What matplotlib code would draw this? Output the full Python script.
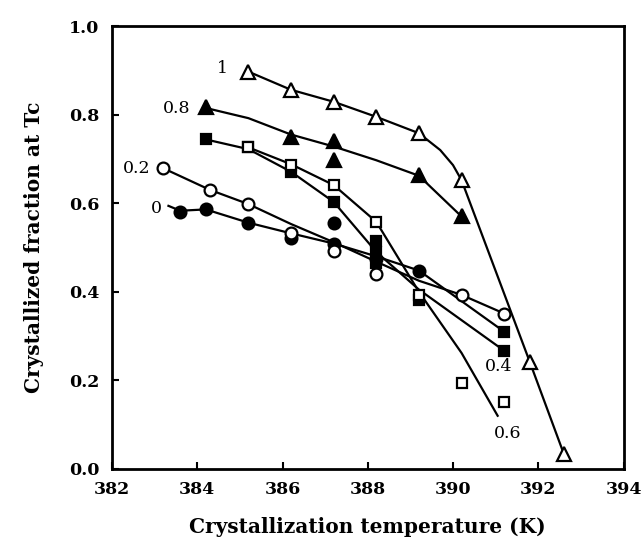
import matplotlib
matplotlib.use("Agg")
import matplotlib.pyplot as plt

# ---- data ----
# markers
open_tri_x = [385.2, 386.2, 387.2, 388.2, 389.2, 390.2, 391.8, 392.6]
open_tri_y = [0.897, 0.856, 0.829, 0.795, 0.758, 0.652, 0.242, 0.034]
filled_tri_x = [384.2, 386.2, 387.2, 387.2, 389.2, 390.2]
filled_tri_y = [0.818, 0.749, 0.741, 0.698, 0.664, 0.570]
filled_sq_x = [384.2, 385.2, 386.2, 387.2, 388.2, 388.2, 388.2, 389.2, 391.2, 391.2]
filled_sq_y = [0.744, 0.726, 0.671, 0.603, 0.515, 0.490, 0.465, 0.381, 0.310, 0.267]
open_sq_x = [385.2, 386.2, 387.2, 388.2, 389.2, 390.2, 391.2]
open_sq_y = [0.726, 0.686, 0.641, 0.558, 0.393, 0.195, 0.152]
filled_circ_x = [383.6, 384.2, 385.2, 386.2, 387.2, 387.2, 388.2, 389.2]
filled_circ_y = [0.581, 0.586, 0.556, 0.522, 0.555, 0.509, 0.475, 0.448]
open_circ_x = [383.2, 384.3, 385.2, 386.2, 387.2, 388.2, 390.2, 391.2]
open_circ_y = [0.679, 0.630, 0.598, 0.532, 0.491, 0.440, 0.393, 0.351]

# fitted curves
c1_x = [385.2, 386.2, 387.2, 388.2, 389.2, 389.7, 390.0, 390.2, 391.8, 392.6]
c1_y = [0.897, 0.856, 0.829, 0.795, 0.758, 0.720, 0.686, 0.652, 0.242, 0.034]
c08_x = [384.2, 385.2, 386.2, 387.2, 388.2, 389.2, 390.2]
c08_y = [0.815, 0.792, 0.755, 0.728, 0.697, 0.662, 0.570]
c06_x = [385.2, 386.2, 387.2, 388.2, 389.2, 390.2, 391.06]
c06_y = [0.726, 0.688, 0.641, 0.558, 0.400, 0.262, 0.118]
c04_x = [384.2, 385.2, 386.2, 387.2, 388.2, 389.2, 391.2]
c04_y = [0.744, 0.722, 0.671, 0.603, 0.490, 0.405, 0.267]
c02_x = [383.2, 384.3, 385.2, 386.2, 387.2, 388.2, 389.2, 390.2, 391.2]
c02_y = [0.679, 0.630, 0.598, 0.553, 0.512, 0.468, 0.425, 0.393, 0.351]
c0_x = [383.3, 383.6, 384.2, 385.2, 386.2, 387.2, 388.2, 389.2, 391.2]
c0_y = [0.595, 0.583, 0.586, 0.556, 0.532, 0.509, 0.480, 0.448, 0.310]

curve_labels = ["1", "0.8", "0.2", "0", "0.4", "0.6"]
label_x = [384.6, 383.52, 382.57, 383.05, 391.06, 391.28]
label_y = [0.904, 0.814, 0.679, 0.588, 0.231, 0.081]

x_ticks = [382, 384, 386, 388, 390, 392, 394]
y_ticks = [0.0, 0.2, 0.4, 0.6, 0.8, 1.0]

# ---- figure ----
fig = plt.figure(figsize=(6.43, 5.41), dpi=100)
ax = fig.add_axes([0.1742, 0.1331, 0.7955, 0.8188])

lw = 1.6
for cx, cy in [(c1_x, c1_y), (c08_x, c08_y), (c06_x, c06_y),
               (c04_x, c04_y), (c02_x, c02_y), (c0_x, c0_y)]:
    ax.plot(cx, cy, color="black", lw=lw, zorder=2, solid_capstyle="butt")

mew = 1.6
ax.plot(filled_circ_x, filled_circ_y, "o", ms=8.5, mfc="black", mec="black", mew=mew, zorder=3)
ax.plot(open_circ_x, open_circ_y, "o", ms=8.5, mfc="white", mec="black", mew=mew, zorder=3)
ax.plot(filled_sq_x, filled_sq_y, "s", ms=7.5, mfc="black", mec="black", mew=mew, zorder=3)
ax.plot(open_sq_x, open_sq_y, "s", ms=7.5, mfc="white", mec="black", mew=mew, zorder=3)
ax.plot(filled_tri_x, filled_tri_y, "^", ms=10.5, mfc="black", mec="black", mew=mew, zorder=3)
ax.plot(open_tri_x, open_tri_y, "^", ms=10.5, mfc="white", mec="black", mew=mew, zorder=3)

for t, x, y in zip(curve_labels, label_x, label_y):
    ax.text(x, y, t, ha="center", va="center", fontsize=12.5,
            family="DejaVu Serif", zorder=4)

ax.set_xlim(382, 394)
ax.set_ylim(0, 1.0)
ax.set_xticks(x_ticks)
ax.set_yticks(y_ticks)
ax.set_xticklabels([str(v) for v in x_ticks])
ax.set_yticklabels([f"{v:.1f}" for v in y_ticks])
ax.tick_params(direction="in", length=5, width=1.5, top=False, right=False,
               labelsize=12.5, pad=9)
for lab in ax.get_xticklabels() + ax.get_yticklabels():
    lab.set_fontfamily("DejaVu Serif")
    lab.set_fontweight("bold")
for s in ax.spines.values():
    s.set_linewidth(2)

ax.set_xlabel("Crystallization temperature (K)", fontsize=14.5, fontweight="bold",
              family="DejaVu Serif", labelpad=13)
ax.set_ylabel("Crystallized fraction at Tc", fontsize=14.5, fontweight="bold",
              family="DejaVu Serif", labelpad=18)

fig.savefig("out.png", dpi=100)
